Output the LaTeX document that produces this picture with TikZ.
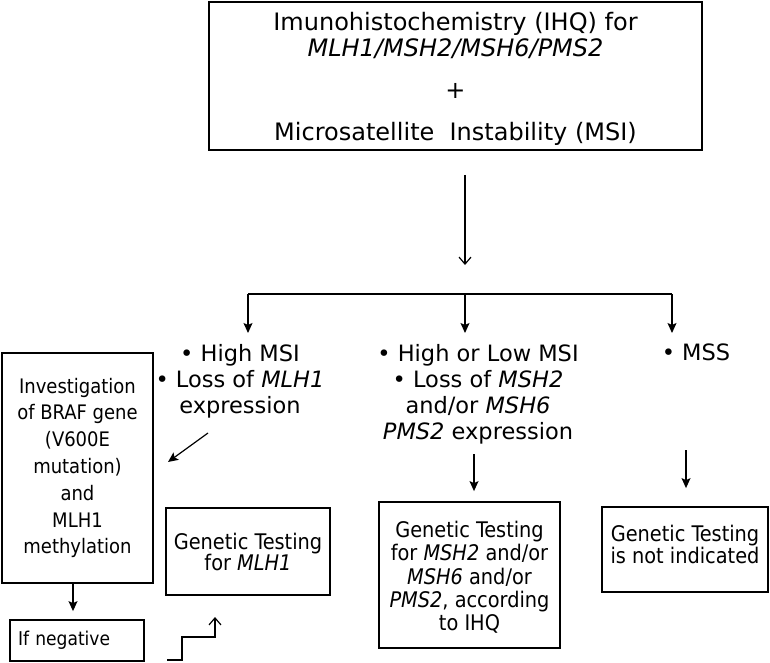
\documentclass[tikz,border=0pt]{standalone}
\usepackage{fontspec}
\setmainfont{DejaVu Sans}
\newfontfamily\boxfont{DejaVu Sans Condensed}
\usetikzlibrary{arrows.meta}

\tikzset{
  frame/.style={draw, line width=1.8pt, inner sep=0pt, align=center},
  bullets/.style={align=center, inner sep=0pt, anchor=north,
    font=\fontsize{22.5}{26}\selectfont},
  link/.style={line width=1.2pt},
  fillarrow/.style={link, -{Stealth[length=10pt,width=9pt,inset=2pt]}},
  openarrow/.style={link, -{Straight Barb[length=7pt,width=12pt]}},
}

\begin{document}
\begin{tikzpicture}[x=1pt, y=-1pt]
  \useasboundingbox (0,0) rectangle (770,663);

  % Top box
  \node[frame, minimum width=493pt, minimum height=148pt,
        font=\fontsize{24}{26}\selectfont] (ihq) at (455.5,76)
    {\mbox{}\\[-2pt] Imunohistochemistry (IHQ) for\\ \textit{MLH1/MSH2/MSH6/PMS2}\\[16pt]
     +\\[16pt] Microsatellite\ \ Instability (MSI)};

  % Branches
  \coordinate (a1) at (465,175);
  \coordinate (a2) at (465,265);
  \coordinate (bl) at (248,294);
  \coordinate (bm) at (465,294);
  \coordinate (br) at (672,294);

  \draw[openarrow] (a1) -- (a2);
  \draw[link] (bl) -- (br);

  % Results
  \node[bullets] (hmsi) at (240,344)
    {\textbullet\ High MSI\\ \textbullet\ Loss of \textit{MLH1}\\ expression};
  \node[bullets] (lmsi) at (478,344)
    {\textbullet\ High or Low MSI\\ \textbullet\ Loss of \textit{MSH2}\\
     and/or \textit{MSH6}\\ \textit{PMS2} expression};
  \node[bullets] (mss) at (696,344) {\textbullet\ MSS};

  \foreach \b in {bl,bm,br}
    \draw[fillarrow, shorten >=11pt] (\b) -- (\b |- hmsi.north);

  % Left branch
  \node[frame, minimum width=151pt, minimum height=230pt,
        font=\boxfont\fontsize{20}{26.8}\selectfont] (braf) at (77.5,468)
    {Investigation\\ of BRAF gene\\ (V600E\\ mutation)\\ and\\ MLH1\\ methylation};
  \node[frame, minimum width=164pt, minimum height=87pt,
        font=\boxfont\fontsize{21.5}{21}\selectfont] (gtmlh) at (248,551.5)
    {Genetic Testing\\ for \textit{MLH1}};
  \node[frame, text width=118pt, inner xsep=8pt, align=left, minimum height=41pt,
        font=\boxfont\fontsize{19}{21}\selectfont] (neg) at (77,640.5)
    {If negative};

  \coordinate (d1) at (208,433);
  \coordinate (d2) at (168,462);
  \draw[fillarrow] (d1) -- (d2);
  \draw[fillarrow, shorten >=8pt]
    ([xshift=-4.5pt]braf.south) -- ([xshift=-4.5pt]braf.south |- neg.north);

  \coordinate (s0) at (167,660);
  \draw[openarrow] (s0) -- ++(15,0) -- ++(0,-23) -- ++(33,0) -- ++(0,-20);

  % Middle and right branch
  \node[frame, minimum width=181pt, minimum height=146pt,
        font=\boxfont\fontsize{21.5}{23.3}\selectfont] (gtmsh) at (469.5,575)
    {\mbox{}\\[-2pt] Genetic Testing\\ for \textit{MSH2} and/or\\ \textit{MSH6} and/or\\
     \textit{PMS2}, according\\ to IHQ};
  \node[frame, minimum width=166pt, minimum height=85pt,
        font=\boxfont\fontsize{21.5}{22}\selectfont] (gtno) at (685,549.5)
    {Genetic Testing\\ is not indicated\\[-12pt]\mbox{}};

  \draw[fillarrow, shorten <=10pt, shorten >=10pt]
    ([xshift=4.5pt]lmsi.south -| gtmsh.north) -- ([xshift=4.5pt]gtmsh.north);
  \coordinate (m1) at (686,450);
  \draw[fillarrow, shorten >=18pt] (m1) -- (m1 |- gtno.north);

\end{tikzpicture}
\end{document}
